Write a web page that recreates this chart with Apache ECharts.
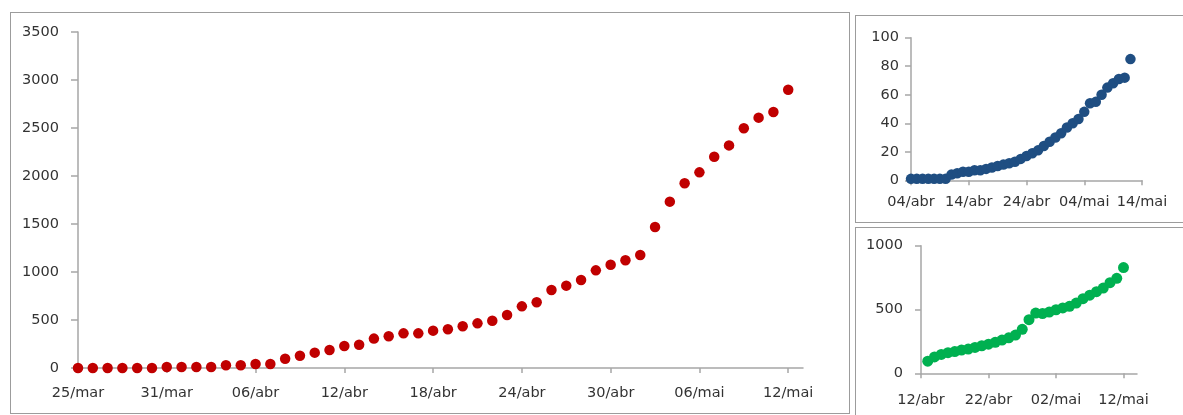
<!DOCTYPE html>
<html>
<head>
<meta charset="utf-8">
<script src="https://cdn.jsdelivr.net/npm/echarts@6/dist/echarts.min.js"></script>
<style>
  html, body { margin: 0; padding: 0; background: #fff; }
  #chart { position: absolute; left: 0; top: 0; width: 1183px; height: 415px; }
  .frame { position: absolute; border: 1px solid #9c9c9c; box-sizing: border-box; pointer-events: none; }
</style>
</head>
<body>
<div id="chart"></div>
<div class="frame" style="left:10px; top:12px; width:840px; height:402px;"></div>
<div class="frame" style="left:855px; top:15px; width:340px; height:208px;"></div>
<div class="frame" style="left:855px; top:227px; width:340px; height:200px;"></div>
<script>
// ---------- Main chart (red) ----------
const mainDates = [
  '25/mar','26/mar','27/mar','28/mar','29/mar','30/mar','31/mar',
  '01/abr','02/abr','03/abr','04/abr','05/abr','06/abr','07/abr','08/abr','09/abr','10/abr',
  '11/abr','12/abr','13/abr','14/abr','15/abr','16/abr','17/abr','18/abr','19/abr','20/abr',
  '21/abr','22/abr','23/abr','24/abr','25/abr','26/abr','27/abr','28/abr','29/abr','30/abr',
  '01/mai','02/mai','03/mai','04/mai','05/mai','06/mai','07/mai','08/mai','09/mai','10/mai',
  '11/mai','12/mai','13/mai'
];
const mainValues = [
  0, 0, 0, 0, 0, 0, 10, 10, 10, 10, 28, 28, 42, 42, 97, 128, 160, 187, 229, 243,
  306, 330, 361, 361, 389, 403, 434, 465, 493, 552, 642, 684, 812, 858, 917, 1017,
  1076, 1122, 1177, 1469, 1733, 1924, 2038, 2201, 2319, 2497, 2608, 2667, 2899
];
const mainYTicks = { min: 0, max: 3500, interval: 500 };

// ---------- Top-right chart (blue) ----------
const blueDates = [
  '04/abr','05/abr','06/abr','07/abr','08/abr','09/abr','10/abr','11/abr','12/abr','13/abr',
  '14/abr','15/abr','16/abr','17/abr','18/abr','19/abr','20/abr','21/abr','22/abr','23/abr',
  '24/abr','25/abr','26/abr','27/abr','28/abr','29/abr','30/abr','01/mai','02/mai','03/mai',
  '04/mai','05/mai','06/mai','07/mai','08/mai','09/mai','10/mai','11/mai','12/mai','13/mai',
  '14/mai'
];
const blueValues = [
  1, 1, 1, 1, 1, 1, 1, 4, 5, 6, 6, 7, 7, 8, 9, 10, 11, 12, 13, 15,
  17, 19, 21, 24, 27, 30, 33, 37, 40, 43, 48, 54, 55, 60, 65, 68, 71, 72, 85
];
const blueYTicks = { min: 0, max: 100, interval: 20 };

// ---------- Bottom-right chart (green) ----------
const greenDates = [
  '12/abr','13/abr','14/abr','15/abr','16/abr','17/abr','18/abr','19/abr','20/abr','21/abr',
  '22/abr','23/abr','24/abr','25/abr','26/abr','27/abr','28/abr','29/abr','30/abr','01/mai',
  '02/mai','03/mai','04/mai','05/mai','06/mai','07/mai','08/mai','09/mai','10/mai','11/mai',
  '12/mai','13/mai','14/mai'
];
const greenValues = [
  null, 95, 128, 148, 162, 170, 182, 190, 203, 216, 228, 243, 260, 278, 300, 345,
  420, 472, 468, 480, 498, 512, 525, 550, 585, 612, 640, 668, 710, 744, 829
];
const greenYTicks = { min: 0, max: 1000, interval: 500 };

const FONT = 'DejaVu Sans';
const TXT = '#333333';
const AXIS = '#a6a6a6';

function xAxisFor(gridIndex, data, every, tickLen, margin, fs) {
  return {
    type: 'category', gridIndex: gridIndex, data: data, boundaryGap: false,
    axisLine: { show: true, lineStyle: { color: AXIS, width: 1.5 } },
    axisTick: { show: true, interval: every - 1, length: tickLen, lineStyle: { color: AXIS, width: 1.5 } },
    axisLabel: { interval: every - 1, margin: margin, color: TXT, fontFamily: FONT, fontSize: fs },
    splitLine: { show: false }
  };
}
function yAxisFor(gridIndex, t, tickLen, margin, fs) {
  return {
    type: 'value', gridIndex: gridIndex, min: t.min, max: t.max, interval: t.interval,
    axisLine: { show: true, lineStyle: { color: AXIS, width: 1.5 } },
    axisTick: { show: true, length: tickLen, lineStyle: { color: AXIS, width: 1.5 } },
    axisLabel: { margin: margin, color: TXT, fontFamily: FONT, fontSize: fs,
                 formatter: function (v) { return String(v); } },
    splitLine: { show: false }
  };
}

const chart = echarts.init(document.getElementById('chart'), null, { renderer: 'canvas' });
chart.setOption({
  animation: false,
  backgroundColor: '#ffffff',
  grid: [
    { left: 78, top: 32, width: 725, height: 336 },
    { left: 911, top: 37.7, width: 231, height: 142.6 },
    { left: 921, top: 245.7, width: 216, height: 127.6 }
  ],
  xAxis: [
    xAxisFor(0, mainDates, 6, 5, 18, 14.5),
    xAxisFor(1, blueDates, 10, 5, 14, 14.5),
    xAxisFor(2, greenDates, 10, 5, 19, 14.5)
  ],
  yAxis: [
    yAxisFor(0, mainYTicks, 7, 19, 14.5),
    yAxisFor(1, blueYTicks, 6, 12, 14.5),
    yAxisFor(2, greenYTicks, 6, 18, 14.5)
  ],
  series: [
    { type: 'scatter', xAxisIndex: 0, yAxisIndex: 0, data: mainValues, symbolSize: 10.5,
      itemStyle: { color: '#c00000', opacity: 1 } },
    { type: 'scatter', xAxisIndex: 1, yAxisIndex: 1, data: blueValues, symbolSize: 10.5,
      itemStyle: { color: '#1f4e82', opacity: 1 } },
    { type: 'scatter', xAxisIndex: 2, yAxisIndex: 2, data: greenValues, symbolSize: 11,
      itemStyle: { color: '#00b050', opacity: 1 } }
  ]
});
</script>
</body>
</html>
